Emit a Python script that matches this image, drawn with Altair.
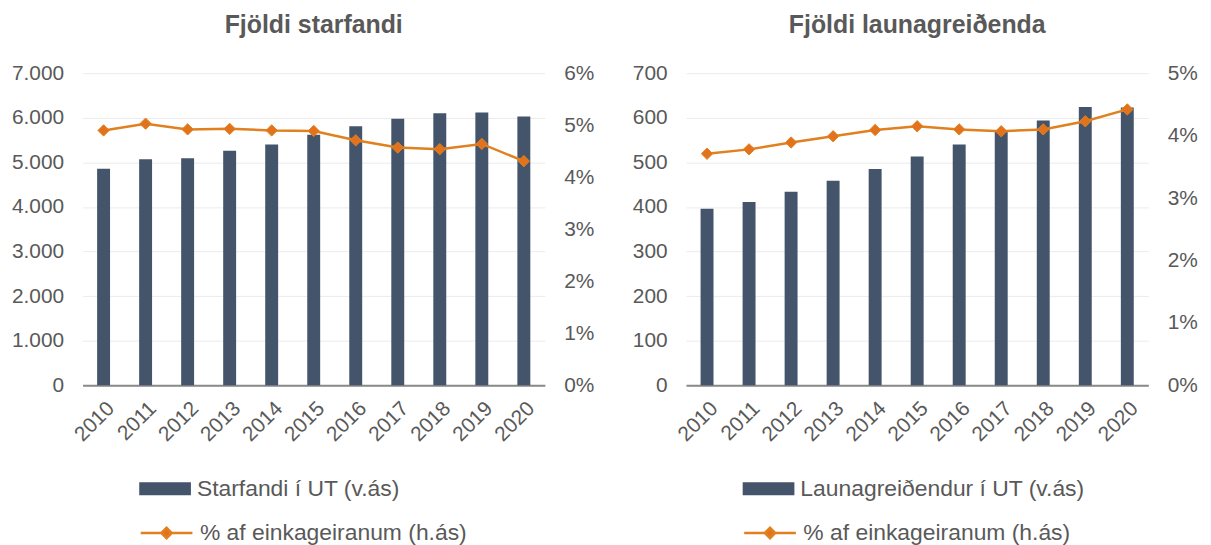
import altair as alt
import pandas as pd

years = ["2010", "2011", "2012", "2013", "2014", "2015", "2016", "2017", "2018", "2019", "2020"]

starfandi = [4860, 5070, 5090, 5260, 5400, 5620, 5810, 5980, 6100, 6120, 6030]
starfandi_pct = [4.90, 5.03, 4.92, 4.93, 4.90, 4.89, 4.71, 4.57, 4.54, 4.64, 4.31]

launagreidendur = [396, 411, 434, 459, 485, 513, 540, 572, 594, 624, 623]
launagreidendur_pct = [3.71, 3.78, 3.89, 3.99, 4.09, 4.15, 4.10, 4.07, 4.10, 4.23, 4.42]

title_left = "Fjöldi starfandi"
title_right = "Fjöldi launagreiðenda"
bar_label_left = "Starfandi í UT (v.ás)"
bar_label_right = "Launagreiðendur í UT (v.ás)"
line_label = "% af einkageiranum (h.ás)"

BAR = "#44546A"
LINE = "#E0801F"
MARK_FILL = "#E2731C"
TXT = "#595959"
FONT = "Liberation Sans"

RECT_PATH = "M-1,-0.25H1V0.25H-1Z"
LINE_PATH = "M-1,0H-0.2M0.2,0H1M-0.2,0L0,-0.2L0.2,0L0,0.2Z"


def panel(title, bar_label, bar_vals, pct_vals, ymax, ystep, pmax, left_fmt):
    df = pd.DataFrame({
        "year": years,
        "v": bar_vals,
        "p": pct_vals,
        "bar": bar_label,
        "line": line_label,
    })
    base = alt.Chart(df)
    x = alt.X("year:N", title=None, sort=years,
              axis=alt.Axis(labelAngle=-45, ticks=False, domainColor="#898989",
                            domainWidth=2, labelPadding=12, labelFontSize=21))
    left_vals = list(range(0, ymax + 1, ystep))
    y_left = alt.Y("v:Q", title=None,
                   scale=alt.Scale(domain=[0, ymax], nice=False),
                   axis=alt.Axis(values=left_vals, grid=True, gridColor="#EBEBEB",
                                 domain=False, ticks=False, labelPadding=19,
                                 labelExpr=left_fmt))
    pct_axis = alt.Axis(orient="right", values=list(range(0, pmax + 1)), grid=False,
                        domain=False, ticks=False, labelPadding=19,
                        labelExpr="datum.value + '%'")
    bars = base.mark_bar(size=13).encode(
        x=x,
        y=y_left,
        fill=alt.Fill("bar:N", scale=alt.Scale(range=[BAR]),
                      legend=alt.Legend(title=None, orient="none", legendX=57, legendY=392,
                                        symbolType=RECT_PATH, symbolSize=2704,
                                        symbolStrokeWidth=0, labelOffset=6, padding=0)),
    )
    yp = alt.Y("p:Q", title=None, scale=alt.Scale(domain=[0, pmax], nice=False), axis=pct_axis)
    line = base.mark_line(strokeWidth=2.5).encode(
        x=x,
        y=yp,
        stroke=alt.Stroke("line:N", scale=alt.Scale(range=[LINE]),
                          legend=alt.Legend(title=None, orient="none", legendX=57, legendY=435,
                                            symbolType=LINE_PATH, symbolSize=2704,
                                            symbolStrokeWidth=2.5, symbolFillColor=MARK_FILL,
                                            labelOffset=6, padding=0)),
    )
    pts = base.mark_point(shape="diamond", filled=True, size=130, color=MARK_FILL,
                          stroke=LINE, strokeWidth=1, opacity=1).encode(x=x, y=yp)
    return alt.layer(bars, alt.layer(line, pts)).resolve_scale(y="independent").properties(
        width=465, height=314,
        title=alt.TitleParams(title, offset=24),
    )


left = panel(title_left, bar_label_left, starfandi, starfandi_pct, 7000, 1000, 6,
             "replace(format(datum.value, ','), ',', '.')")
right = panel(title_right, bar_label_right, launagreidendur, launagreidendur_pct, 700, 100, 5,
              "format(datum.value, 'd')")

chart = alt.hconcat(left, right, spacing=37).resolve_scale(
    y="independent", fill="independent", stroke="independent"
).resolve_legend(fill="independent", stroke="independent").properties(
    padding={"left": 3, "top": 4, "right": 5, "bottom": 0}
).configure_view(stroke=None).configure_axis(
    labelFont=FONT, labelColor=TXT, labelFontSize=21
).configure_legend(
    labelFont=FONT, labelColor=TXT, labelFontSize=23, labelLimit=400
).configure_title(
    font=FONT, fontSize=25, fontWeight="bold", color=TXT, anchor="middle"
)

chart.save("out.html", embed_options={"renderer": "svg", "actions": False})
